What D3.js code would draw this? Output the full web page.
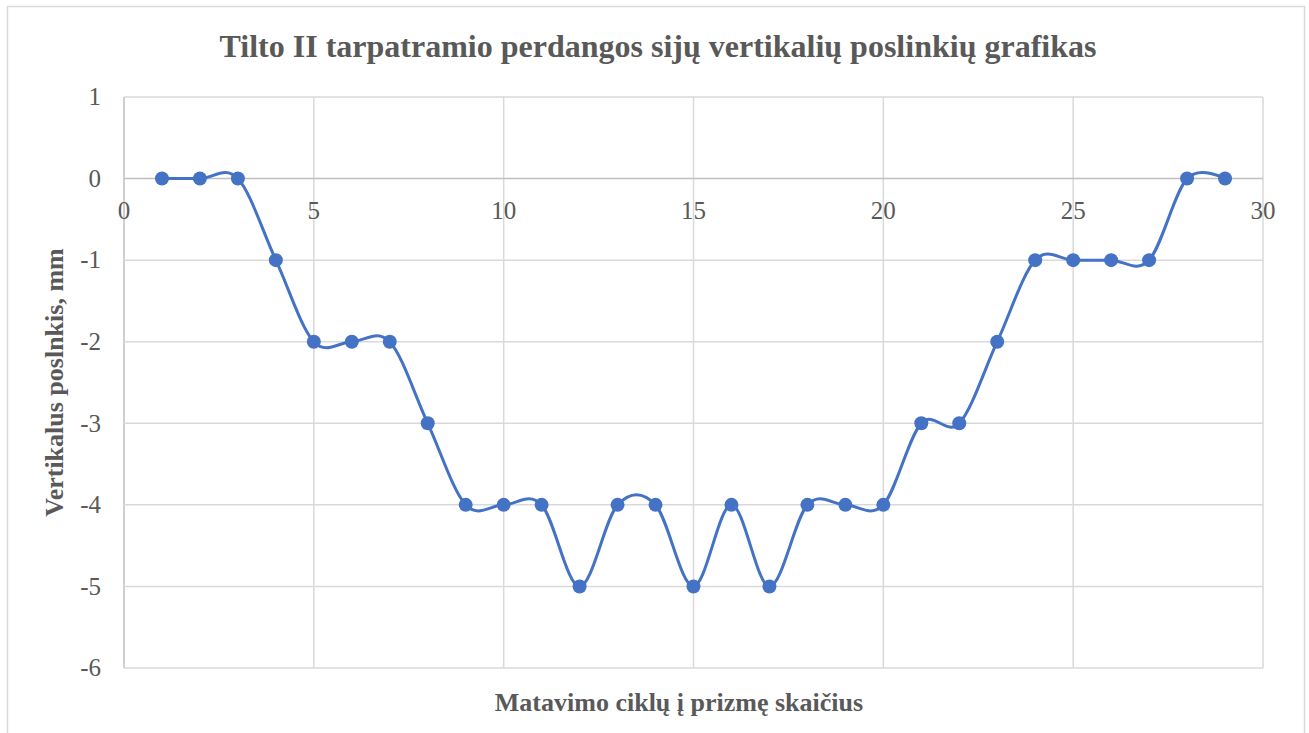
<!DOCTYPE html>
<html>
<head>
<meta charset="utf-8">
<script src="https://cdn.jsdelivr.net/npm/d3@7"></script>
<style>
  body { margin: 0; background: #fff; }
  text { font-family: "Liberation Serif", "Times New Roman", serif; }
</style>
</head>
<body>
<div class="root"></div>
<script>
const cycles = [1, 2, 3, 4, 5, 6, 7, 8, 9, 10, 11, 12, 13, 14, 15, 16, 17, 18, 19, 20, 21, 22, 23, 24, 25, 26, 27, 28, 29]
const shifts = [0, 0, 0, -1, -2, -2, -2, -3, -4, -4, -4, -5, -4, -4, -5, -4, -5, -4, -4, -4, -3, -3, -2, -1, -1, -1, -1, 0, 0]
const xTicks = [0, 5, 10, 15, 20, 25, 30]
const yTicks = [1, 0, -1, -2, -3, -4, -5, -6]

const titleText = 'Tilto II tarpatramio perdangos sijų vertikalių poslinkių grafikas'
const xTitle = 'Matavimo ciklų į prizmę skaičius'
const yTitle = 'Vertikalus poslnkis, mm'

const svgWidth = 1309
    , svgHeight = 733
    , margin = { top: 97, left: 124, right: 46, bottom: 65 }
    , graphWidth = svgWidth - margin.left - margin.right
    , graphHeight = svgHeight - margin.top - margin.bottom

const svg = d3.select('.root')
              .append('svg')
              .attr('width', svgWidth)
              .attr('height', svgHeight)

// chart border
svg.append('rect')
   .attr('x', 7.5).attr('y', 6.5)
   .attr('width', 1297).attr('height', 740)
   .attr('fill', '#fff')
   .attr('stroke', '#d9d9d9')
   .attr('stroke-width', 1.5)

const scaleX = d3.scaleLinear().domain([0, 30]).range([0, graphWidth])
const scaleY = d3.scaleLinear().domain([-6, 1]).range([graphHeight, 0])

const canvas = svg.append('g')
                  .attr('transform', `translate(${margin.left}, ${margin.top})`)

// grid
canvas.append('g')
      .selectAll('line')
      .data(xTicks)
      .enter()
      .append('line')
      .attr('x1', d => scaleX(d)).attr('x2', d => scaleX(d))
      .attr('y1', 0).attr('y2', graphHeight)
      .attr('stroke', d => d === 0 ? '#bfbfbf' : '#d9d9d9')
      .attr('stroke-width', 1.5)

canvas.append('g')
      .selectAll('line')
      .data(yTicks)
      .enter()
      .append('line')
      .attr('x1', 0).attr('x2', graphWidth)
      .attr('y1', d => scaleY(d)).attr('y2', d => scaleY(d))
      .attr('stroke', d => d === 0 ? '#bfbfbf' : '#d9d9d9')
      .attr('stroke-width', 1.5)

// tick labels
canvas.append('g')
      .selectAll('text')
      .data(yTicks)
      .enter()
      .append('text')
      .attr('x', -23)
      .attr('y', d => scaleY(d))
      .attr('dy', '0.33em')
      .attr('text-anchor', 'end')
      .attr('font-size', 25)
      .attr('fill', '#595959')
      .text(d => d)

canvas.append('g')
      .selectAll('text')
      .data(xTicks)
      .enter()
      .append('text')
      .attr('x', d => scaleX(d))
      .attr('y', scaleY(0) + 40)
      .attr('text-anchor', 'middle')
      .attr('font-size', 25)
      .attr('fill', '#595959')
      .text(d => d)

// series
const points = cycles.map((c, i) => ({ x: c, y: shifts[i] }))

canvas.append('path')
      .datum(points)
      .attr('fill', 'none')
      .attr('stroke', '#4472c4')
      .attr('stroke-width', 3)
      .attr('d', d3.line()
                   .x(d => scaleX(d.x))
                   .y(d => scaleY(d.y))
                   .curve(d3.curveCatmullRom.alpha(0)))

canvas.append('g')
      .selectAll('circle')
      .data(points)
      .enter()
      .append('circle')
      .attr('r', 7)
      .attr('cx', d => scaleX(d.x))
      .attr('cy', d => scaleY(d.y))
      .attr('fill', '#4472c4')

// titles
svg.append('text')
   .attr('x', 658).attr('y', 57)
   .attr('text-anchor', 'middle')
   .attr('font-size', 32)
   .attr('font-weight', 'bold')
   .attr('fill', '#595959')
   .text(titleText)

svg.append('text')
   .attr('x', 679).attr('y', 711)
   .attr('text-anchor', 'middle')
   .attr('font-size', 26)
   .attr('font-weight', 'bold')
   .attr('fill', '#595959')
   .text(xTitle)

svg.append('text')
   .attr('transform', `translate(63, ${margin.top + graphHeight / 2}) rotate(-90)`)
   .attr('text-anchor', 'middle')
   .attr('font-size', 26)
   .attr('font-weight', 'bold')
   .attr('fill', '#595959')
   .text(yTitle)
</script>
</body>
</html>
